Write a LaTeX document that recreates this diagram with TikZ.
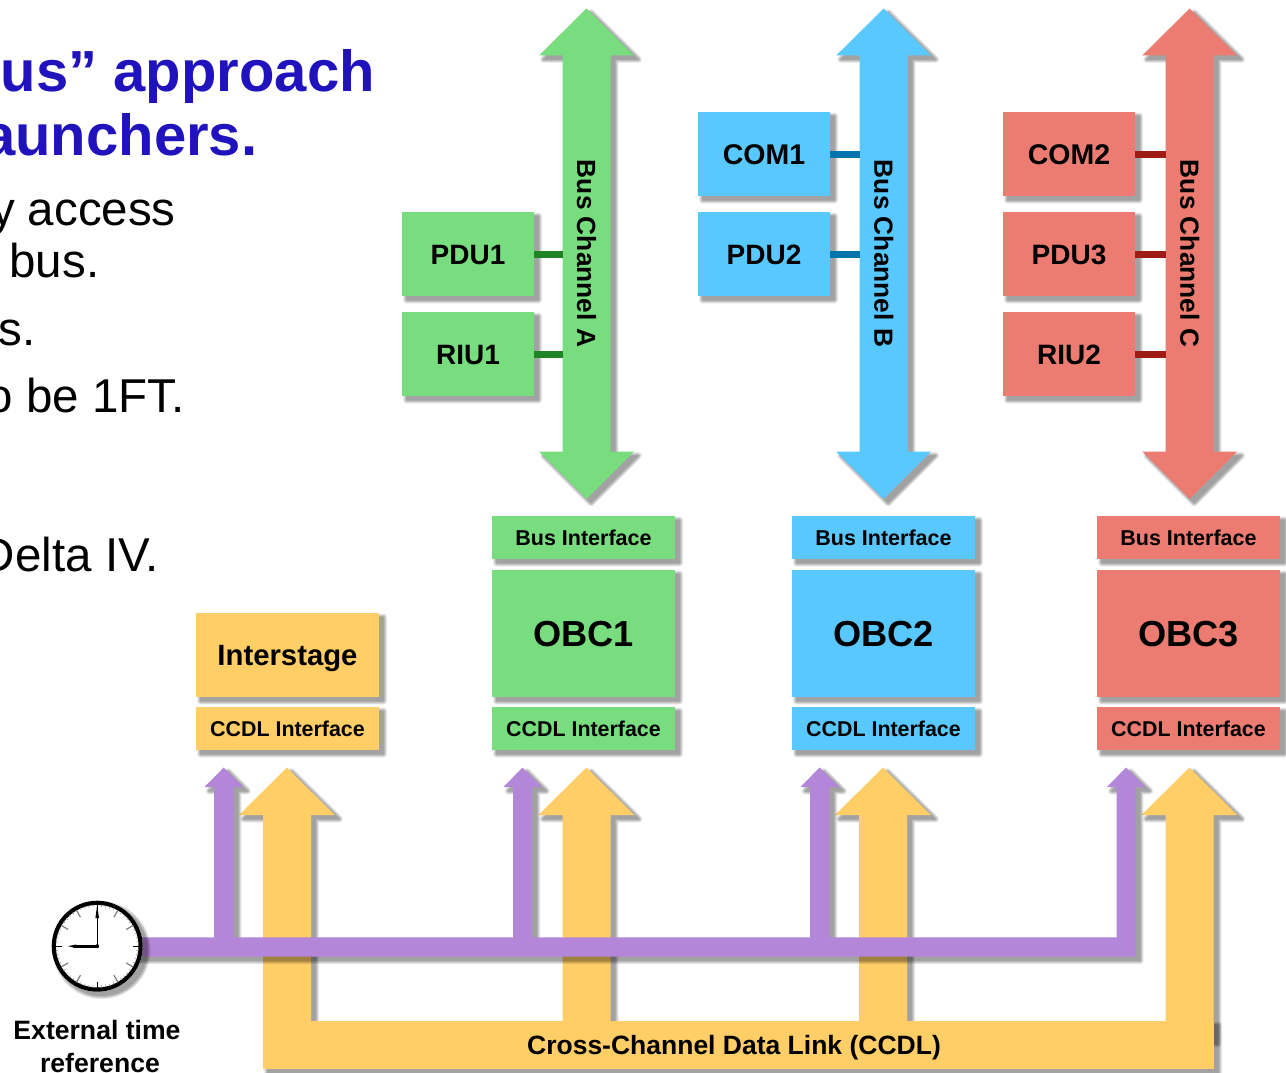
\documentclass[tikz,border=0pt]{standalone}
\usepackage{fontspec}
\usepackage{graphicx}
\setmainfont{Liberation Sans}
\definecolor{cgreen}{HTML}{77DD7F}
\definecolor{cblue}{HTML}{59C8FF}
\definecolor{cred}{HTML}{EC7C72}
\definecolor{cyellow}{HTML}{FFCE66}
\definecolor{cpurple}{HTML}{B486D9}
\definecolor{lgreen}{HTML}{1F8426}
\definecolor{lblue}{HTML}{0074AC}
\definecolor{lred}{HTML}{9E1B16}
\definecolor{ctitle}{HTML}{2012BC}
\newcommand{\fsz}[1]{\fontsize{#1}{#1}\selectfont}
\newcommand{\softshape}[2]{%
  \foreach \w in {7,6,5,4,3,2,1,0.2}{%
    \begin{scope}[transparency group,opacity=.055,shift={(4.5,4)}]
      \path[fill=black,draw=black,line width=\w pt,line join=round] #2;
    \end{scope}}%
  \fill[#1] #2;}
% x0 y0 x1 y1 colour name label size
\newcommand{\softbox}[8]{%
  \softshape{#5}{(#1,#2) rectangle (#3,#4)}
  \node[boxlabel,minimum width={#3-#1},minimum height={#4-#2},font=\bfseries\fsz{#8},text height={.716*#8 pt},text depth=0pt] (#6) at ({(#1+#3)/2},{(#2+#4)/2+.5}) {#7};}
\newcommand{\busarrow}[4]{% cx colour name label
  \softshape{#2}{(#1,8.5) -- ({#1+47.5},55.5) -- ({#1+24},55.5) -- ({#1+24},451.5) -- ({#1+47.5},451.5) -- (#1,499) -- ({#1-47.5},451.5) -- ({#1-24},451.5) -- ({#1-24},55.5) -- ({#1-47.5},55.5) -- cycle}
  \node[boxlabel,minimum width=48,minimum height=396,font=\bfseries\fsz{26.3}] (#3) at (#1,253.5) {\rotatebox{-90}{#4}};}
\newcommand{\yarrow}[1]{%
  \softshape{cyellow}{(#1,767.5) -- ({#1+48},815) -- ({#1+24},815) -- ({#1+24},1040) -- ({#1-24},1040) -- ({#1-24},815) -- ({#1-48},815) -- cycle}}
\tikzset{
  boxlabel/.style={inner sep=0pt,outer sep=0pt,text=black,align=center},
  linkbar/.style={line width=7.2pt},
  body/.style={anchor=base east,inner sep=0pt,font=\fsz{47.5},text=black},
  headline/.style={anchor=base east,inner sep=0pt,font=\bfseries\fsz{58},text=ctitle},
}
\begin{document}
\begin{tikzpicture}[x=1pt,y=-1pt]
\useasboundingbox (0,0) rectangle (1286,1073);
\begin{scope}
\clip (0,0) rectangle (1286,1073);
\node[headline] (t1) at (375,92) {us” approach};
\node[headline] (t2) at (257.5,155) {aunchers.};
\node[body] (b1) at (176,225) {y access};
\node[body] (b2) at (99.5,277) {bus.};
\node[body] (b3) at (35.5,345) {s.};
\node[body] (b4) at (185,412) {o be 1FT.};
\node[body] (b5) at (159,571.5) {Delta IV.};
\end{scope}

% buses
\busarrow{586.5}{cgreen}{busA}{Bus Channel A}
\busarrow{883.7}{cblue}{busB}{Bus Channel B}
\busarrow{1189.7}{cred}{busC}{Bus Channel C}

% devices on buses
\softbox{402}{212}{534}{296}{cgreen}{pdu1}{PDU1}{28}
\softbox{402}{312}{534}{396}{cgreen}{riu1}{RIU1}{28}
\softbox{698}{112}{830}{196}{cblue}{com1}{COM1}{28.5}
\softbox{698}{212}{830}{296}{cblue}{pdu2}{PDU2}{28}
\softbox{1003}{112}{1135}{196}{cred}{com2}{COM2}{28.5}
\softbox{1003}{212}{1135}{296}{cred}{pdu3}{PDU3}{28}
\softbox{1003}{312}{1135}{396}{cred}{riu2}{RIU2}{28}
\draw[linkbar,lgreen] (pdu1.east) -- (pdu1.east -| busA.west);
\draw[linkbar,lgreen] (riu1.east) -- (riu1.east -| busA.west);
\draw[linkbar,lblue] (com1.east) -- (com1.east -| busB.west);
\draw[linkbar,lblue] (pdu2.east) -- (pdu2.east -| busB.west);
\draw[linkbar,lred] (com2.east) -- (com2.east -| busC.west);
\draw[linkbar,lred] (pdu3.east) -- (pdu3.east -| busC.west);
\draw[linkbar,lred] (riu2.east) -- (riu2.east -| busC.west);

% computers
\softbox{492}{516}{675}{559}{cgreen}{bi1}{Bus Interface}{21.5}
\softbox{492}{570}{675}{697}{cgreen}{obc1}{OBC1}{36.2}
\softbox{492}{707}{675}{750}{cgreen}{cc1}{CCDL Interface}{21.4}
\softbox{792}{516}{975}{559}{cblue}{bi2}{Bus Interface}{21.5}
\softbox{792}{570}{975}{697}{cblue}{obc2}{OBC2}{36.2}
\softbox{792}{707}{975}{750}{cblue}{cc2}{CCDL Interface}{21.4}
\softbox{1097}{516}{1280}{559}{cred}{bi3}{Bus Interface}{21.5}
\softbox{1097}{570}{1280}{697}{cred}{obc3}{OBC3}{36.2}
\softbox{1097}{707}{1280}{750}{cred}{cc3}{CCDL Interface}{21.4}
\softbox{196}{613}{379}{697}{cyellow}{inter}{Interstage}{29.3}
\softbox{196}{707}{379}{750}{cyellow}{cc0}{CCDL Interface}{21.4}

% CCDL risers
\yarrow{287}
\yarrow{586.5}
\yarrow{883}
\yarrow{1189.5}

% timing distribution
\softshape{cpurple}{(97,937.3) -- (214,937.3) -- (214,787) -- (204.5,787) -- (223.7,767.5) -- (243,787) -- (233.7,787) -- (233.7,937.3)
 -- (513,937.3) -- (513,787) -- (503.5,787) -- (522.5,767.5) -- (542,787) -- (532.3,787) -- (532.3,937.3)
 -- (810,937.3) -- (810,787) -- (800.5,787) -- (819.5,767.5) -- (839,787) -- (829.3,787) -- (829.3,937.3)
 -- (1116.5,937.3) -- (1116.5,787) -- (1107,787) -- (1126,767.5) -- (1145.5,787) -- (1135.7,787) -- (1135.7,956.7) -- (97,956.7) -- cycle}

% CCDL bar
\softbox{263}{1021}{1214}{1069}{cyellow}{ccdl}{Cross-Channel Data Link (CCDL)\hspace*{9pt}}{26.5}

% clock
\softshape{white}{(97.2,946.2) circle[radius=45.5]}
\node[circle,draw=black,line width=4.2pt,minimum size=86.8pt,inner sep=0pt,fill=white] (clock) at (97.2,946.2) {};
\foreach \a in {0,6,...,354}{\draw[gray!70,line width=.8pt] (clock.center) ++(\a:39.5) -- ++(\a:2);}
\foreach \a in {30,60,120,150,210,240,300,330}{\draw[gray,line width=1.2pt] (clock.center) ++(\a:33.5) -- ++(\a:8);}
\foreach \a in {0,90,180,270}{\draw[black,line width=1.2pt] (clock.center) ++(\a:35.5) -- ++(\a:6);}
\draw[black,line width=1.3pt] (clock.center) -- ++(0,-41);
\fill[black] (97.2,905) -- (99,918) -- (95.4,918) -- cycle;
\draw[black,line width=2.8pt] (clock.center) -- ++(-24,0);
\fill[black] (68,946.2) -- (76,944.5) -- (76,947.9) -- cycle;
\fill[black] (clock.center) circle[radius=2];

\node[boxlabel,font=\bfseries\fsz{26.6}] (ext) at (97,1046.5) {External time\\[6pt]\hspace*{6pt}reference};
\end{tikzpicture}
\end{document}
